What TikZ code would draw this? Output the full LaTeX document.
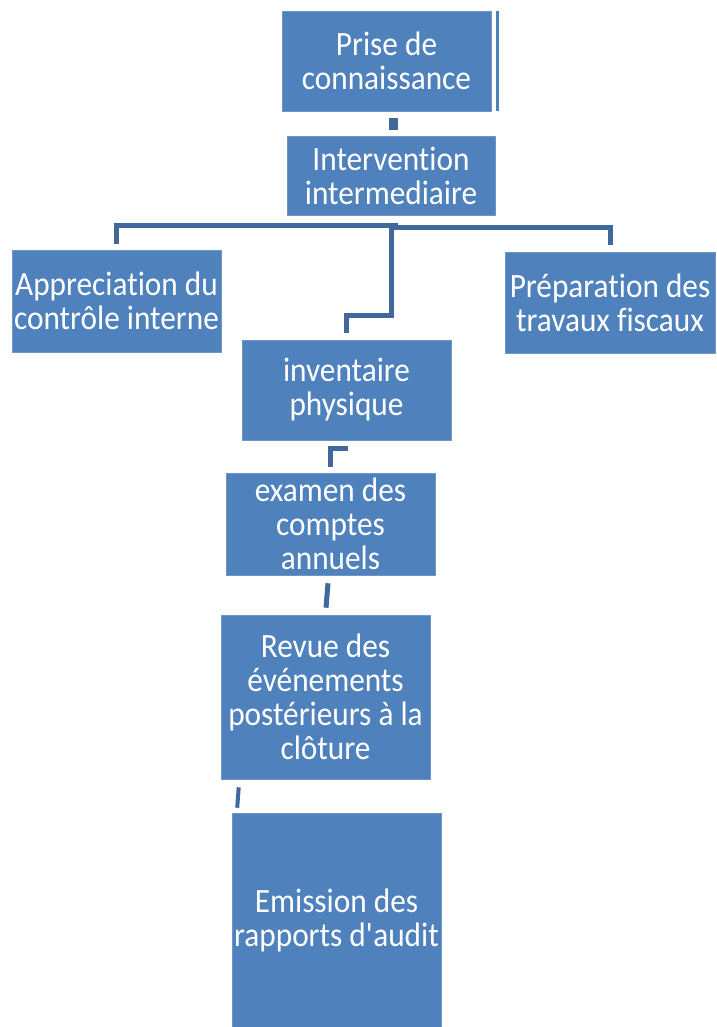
\documentclass[tikz,border=0pt]{standalone}
\usepackage{fontspec}
\setmainfont{Carlito}[FakeStretch=0.92, Ligatures=ResetAll, RawFeature={-liga;-clig;-dlig;-calt}]
\usetikzlibrary{calc}
\definecolor{boxblue}{HTML}{4F81BD}
\definecolor{boxedge}{HTML}{7096C8}
\definecolor{connblue}{HTML}{41689B}
\begin{document}
\begin{tikzpicture}[x=1pt,y=-1pt,
  box/.style={rectangle, fill=boxblue, draw=boxedge, line width=0.6pt, text=white,
    align=center, font=\fontsize{34}{34}\selectfont, inner sep=0pt},
  conn/.style={draw=connblue, line width=5pt}]
\useasboundingbox (0,0) rectangle (716,1027);
\node[box, minimum width=209pt, minimum height=100pt] (prise) at (386.5,61) {Prise de\\connaissance};
\node[box, minimum width=208pt, minimum height=79pt] (interv) at (391,175.5) {Intervention\\intermediaire};
\node[box, minimum width=209pt, minimum height=102pt] (apprec) at (116.5,301) {Appreciation du\\contrôle interne};
\node[box, minimum width=210pt, minimum height=101pt] (prep) at (610,302.5) {Préparation des\\travaux fiscaux};
\node[box, minimum width=209pt, minimum height=100pt] (invent) at (346.5,390) {inventaire\\physique};
\node[box, minimum width=209pt, minimum height=102pt] (examen) at (330.5,524) {examen des\\comptes\\annuels};
\node[box, minimum width=209pt, minimum height=164pt] (revue) at (325.5,697) {Revue des\\événements\\postérieurs à la\\clôture};
\node[box, minimum width=209pt, minimum height=214pt] (emission) at (336.5,920) {Emission des\\rapports d\textquotesingle audit};
% bar beside first box
\draw[line width=3pt, boxblue] ($(prise.north east)+(6,0)$) -- ($(prise.south east)+(6,0)$);
% connectors
\draw[draw=connblue, line width=9pt] ($(prise.south)+(7,7)$) -- ($(interv.north)+(2.5,-6)$);
\draw[conn] ($(apprec.north)+(0,-6)$) |- ($(interv.south)+(7,10)$);
\draw[conn] ($(prep.north)+(0,-7)$) |- ($(interv.south)+(-2,12)$);
\draw[conn] ($(interv.south)+(0,8)$) -- ($(interv.south)+(0,100)$) -| ($(invent.north)+(0,-7)$);
\draw[conn] ($(invent.south)+(1.5,8)$) -| ($(examen.north)+(-0.5,-6)$);
\draw[conn] ($(examen.south)+(-2.5,8)$) -- ($(examen.south)+(-3,14)$) -- ($(revue.north)+(0.5,-7)$);
\draw[conn, line width=4pt] ($(revue.south west)+(18,8)$) -- ($(emission.north west)+(5.5,-5)$);
\end{tikzpicture}
\end{document}
